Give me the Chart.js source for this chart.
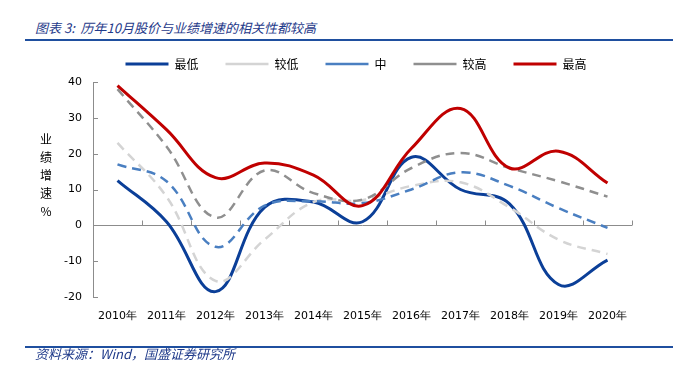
<!DOCTYPE html>
<html>
<head>
<meta charset="utf-8">
<script src="https://cdn.jsdelivr.net/npm/chart.js@4/dist/chart.umd.min.js"></script>
<style>
body { margin: 0; background: #fff; }
#wrap { position: relative; width: 673px; height: 367px; overflow: hidden; }
#cvs { position: absolute; left: 0; top: 0; }
.cap { position: absolute; left: 35px; font-family: "Noto Sans CJK SC"; font-style: italic; color: #1f3a8a; font-size: 13px; line-height: 18px; white-space: nowrap; }
.rule { position: absolute; left: 25px; right: 0; height: 2px; background: #1f4f9f; }
</style>
</head>
<body>
<div id="wrap">
	<div class="cap" style="top:19px">图表 3:&nbsp; 历年10月股价与业绩增速的相关性都较高</div>
	<div class="rule" style="top:39px"></div>
	<canvas id="cvs" width="673" height="367"></canvas>
	<div class="rule" style="top:346px"></div>
	<div class="cap" style="top:345px">资料来源：Wind，国盛证券研究所</div>
</div>
<script>
var years = ["2010年", "2011年", "2012年", "2013年", "2014年", "2015年", "2016年", "2017年", "2018年", "2019年", "2020年"];

var lowest  = [12.5, 1, -18.5, 5, 6.5, 1, 19, 10, 6, -16.5, -9.7];
var low     = [23, 8, -15.5, -4, 6.5, 7, 11, 12, 5, -4, -8];
var middle  = [17, 12.3, -6, 5.5, 6.7, 6.2, 10, 14.8, 11, 4.8, -0.7];
var high    = [38, 22, 2.2, 15.3, 9, 7.2, 16, 20.2, 16, 12.3, 8];
var highest = [39, 26.7, 13.3, 17.4, 14, 5.5, 21.5, 32.6, 16, 20.7, 11.8];

var yTitle = ["业", "绩", "增", "速", "%"];

function makeSet(label, data, color, width, dash, order) {
	return {
		label: label,
		data: data,
		borderColor: color,
		backgroundColor: color,
		borderWidth: width,
		borderDash: dash,
		pointRadius: 0,
		pointHoverRadius: 0,
		tension: 0.4,
		fill: false,
		order: order
	};
}

// legend placement, zero line with inside ticks, y inside ticks, vertical axis title
var axisMarks = {
	id: "axisMarks",
	beforeLayout: function(chart) {
		var lg = chart.legend;
		if (lg && !lg._fixed) {
			var fit = lg.fit;
			lg.fit = function() { fit.call(this); this.height = 51; };
			lg._fixed = true;
		}
	},
	afterLayout: function(chart) {
		if (chart.legend) {
			chart.legend.left = 80;
		}
	},
	beforeDatasetsDraw: function(chart) {
		var ctx = chart.ctx;
		var ys = chart.scales.y, area = chart.chartArea;
		var y0 = Math.round(ys.getPixelForValue(0)) + 0.5;
		var step = (area.right - area.left) / years.length;
		ctx.save();
		ctx.strokeStyle = "#8c8c8c";
		ctx.lineWidth = 1;
		ctx.beginPath();
		ctx.moveTo(area.left, y0);
		ctx.lineTo(area.right, y0);
		for (var i = 1; i <= years.length; i++) {
			var px = Math.round(area.left + i * step) + 0.5;
			ctx.moveTo(px, y0);
			ctx.lineTo(px, y0 - 5);
		}
		ys.ticks.forEach(function(t) {
			var py = Math.round(ys.getPixelForValue(t.value)) + 0.5;
			ctx.moveTo(area.left, py);
			ctx.lineTo(area.left + 5, py);
		});
		ctx.stroke();
		ctx.restore();
	},
	afterDraw: function(chart) {
		var ctx = chart.ctx;
		ctx.save();
		ctx.font = '12px "Noto Sans CJK SC"';
		ctx.fillStyle = "#000";
		ctx.textAlign = "center";
		ctx.textBaseline = "middle";
		for (var i = 0; i < yTitle.length; i++) {
			ctx.fillText(yTitle[i], 46, 139 + i * 18);
		}
		ctx.restore();
	}
};

new Chart(document.getElementById("cvs"), {
	type: "line",
	data: {
		labels: years,
		datasets: [
			makeSet("最低", lowest, "#0b3f98", 3, [], 5),
			makeSet("较低", low, "#d4d4d4", 2.5, [9, 6], 4),
			makeSet("中", middle, "#4a7fc1", 2.5, [9, 6], 3),
			makeSet("较高", high, "#8f8f8f", 2.5, [9, 6], 2),
			makeSet("最高", highest, "#c00000", 3, [], 1)
		]
	},
	options: {
		responsive: false,
		animation: false,
		layout: { padding: { left: 20, right: 41, top: 31, bottom: 40 } },
		plugins: {
			legend: {
				display: true,
				labels: {
					usePointStyle: true,
					pointStyle: "line",
					pointStyleWidth: 43,
					padding: 27,
					color: "#000",
					font: { family: "Noto Sans CJK SC", size: 12 },
					sort: function(a, b) { return a.datasetIndex - b.datasetIndex; }
				}
			},
			title: { display: false },
			tooltip: { enabled: false }
		},
		scales: {
			x: {
				offset: true,
				grid: { display: false },
				border: { display: false },
				ticks: {
					color: "#000",
					font: { family: "DejaVu Sans", size: 11 },
					maxRotation: 0,
					autoSkip: false,
					padding: 5
				},
				afterFit: function(s) { s.height = 30; }
			},
			y: {
				min: -20,
				max: 40,
				grid: { display: false },
				border: { display: true, color: "#8c8c8c", width: 1 },
				ticks: {
					stepSize: 10,
					color: "#000",
					font: { family: "DejaVu Sans", size: 11 },
					padding: 3
				},
				afterFit: function(s) { s.width = 73; }
			}
		}
	},
	plugins: [axisMarks]
});
</script>
</body>
</html>
